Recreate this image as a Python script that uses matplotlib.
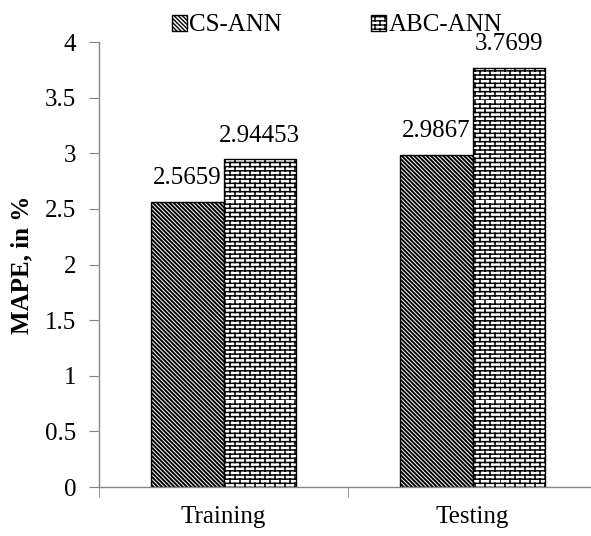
import warnings
import numpy as np
import matplotlib
matplotlib.use("Agg")
import matplotlib.pyplot as plt
import matplotlib.hatch as mhatch
from matplotlib.path import Path
from matplotlib.patches import Patch

warnings.filterwarnings("ignore")

categories = ["Training", "Testing"]
models = ["CS-ANN", "ABC-ANN"]
cs_ann = [2.5659, 2.9867]
abc_ann = [2.94453, 3.7699]
yticks = [0, 0.5, 1, 1.5, 2, 2.5, 3, 3.5, 4]


class BrickHatch(mhatch.HatchPatternBase):
    """brick wall pattern, used with the 'b' hatch character"""
    def __init__(self, hatch, density):
        n = hatch.count('b')
        self.rows = 24 * n
        self.cols = 10 * n
        self.num_vertices = 2 * self.rows + 2 * self.rows * self.cols if n else 0

    def set_vertices_and_codes(self, vertices, codes):
        rows, cols = self.rows, self.cols
        ys = np.arange(rows) / rows
        # horizontal mortar lines
        vertices[0:2 * rows:2] = np.column_stack([np.zeros(rows), ys])
        vertices[1:2 * rows:2] = np.column_stack([np.ones(rows), ys])
        i = 2 * rows
        # vertical joints, shifted half a brick on every other row
        for r in range(rows):
            shift = 0.5 * (r % 2)
            for c in range(cols):
                x = (c + shift) / cols
                vertices[i] = (x, r / rows)
                vertices[i + 1] = (x, (r + 1) / rows)
                i += 2
        codes[0::2] = Path.MOVETO
        codes[1::2] = Path.LINETO


mhatch._hatch_types.append(BrickHatch)

plt.rcParams['font.family'] = ['Liberation Serif', 'DejaVu Serif']
plt.rcParams['hatch.color'] = 'black'

hatches = ['\\' * 8, 'b']
hatch_lw = [1.4, 1.1]
axis_grey = '#868686'

fig = plt.figure(figsize=(5.91, 5.36), dpi=100)
ax = fig.add_axes([99 / 591, 49 / 536, 498 / 591, 445 / 536])

x = np.arange(len(categories))
width = 0.29
handles = []
for k, (name, vals) in enumerate(zip(models, [cs_ann, abc_ann])):
    pos = x + (k - 0.5) * width
    with plt.rc_context({'hatch.linewidth': hatch_lw[k]}):
        ax.bar(pos, vals, width, color='white', edgecolor='black',
               linewidth=1.0, hatch=hatches[k], label=name)
        handles.append(Patch(facecolor='white', edgecolor='black',
                             hatch=hatches[k], label=name))
    for px, v in zip(pos, vals):
        ax.annotate(str(v), (px, v), xytext=(0, 9), textcoords='offset points',
                    ha='center', va='bottom', fontsize=18)

ax.set_xlim(-0.5, 1.5)
ax.set_ylim(0, 4)
ax.set_yticks(yticks)
ax.set_yticklabels([f"{t:g}" for t in yticks])
ax.set_xticks(x)
ax.set_xticklabels(categories)
ax.set_xticks([-0.5, 0.5, 1.5], minor=True)
ax.tick_params(axis='x', which='major', length=0, pad=14, labelsize=18)
ax.tick_params(axis='x', which='minor', length=7, direction='out', color=axis_grey)
ax.tick_params(axis='y', length=7, direction='out', color=axis_grey, labelsize=18, pad=9.5)

for side in ['top', 'right']:
    ax.spines[side].set_visible(False)
for side in ['left', 'bottom']:
    ax.spines[side].set_color(axis_grey)
    ax.spines[side].set_linewidth(1.0)

ax.set_ylabel('MAPE, in %', fontsize=18, fontweight='bold', labelpad=8)

fig.legend(handles=handles, loc='upper center', bbox_to_anchor=(0.57, 1.015),
           ncol=2, frameon=False, fontsize=18, handlelength=0.6, handleheight=0.6,
           handletextpad=0.1, columnspacing=3.55)

fig.savefig('out.png', dpi=100)
